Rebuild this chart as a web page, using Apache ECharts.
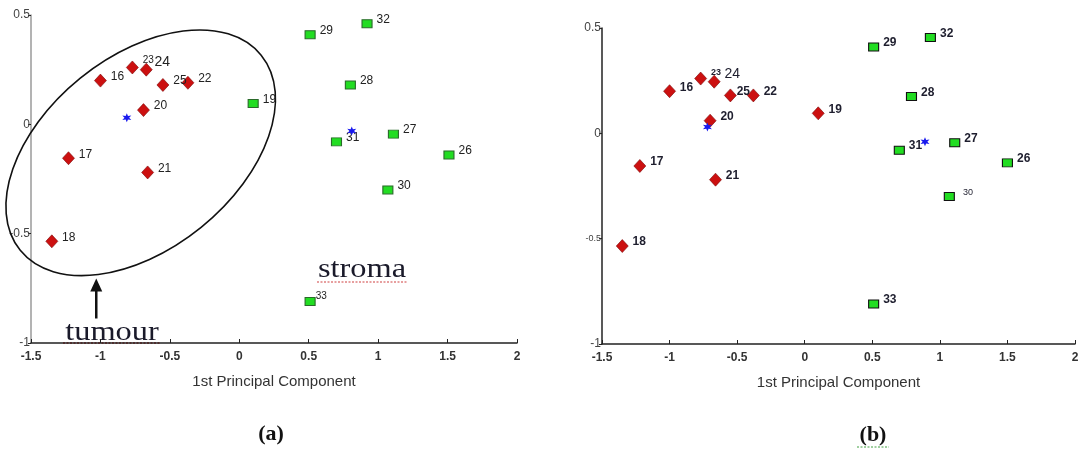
<!DOCTYPE html>
<html>
<head>
<meta charset="utf-8">
<script src="https://cdn.jsdelivr.net/npm/echarts@6/dist/echarts.min.js"></script>
<style>
  html, body { margin: 0; padding: 0; background: #fff; }
  #chart { width: 1082px; height: 453px; }
</style>
</head>
<body>
<div id="chart"></div>
<script>
// panel (a)
const tumourNamesA = ['16', '23', '24', '25', '22', '20', '17', '21', '18'];
const tumourPointsA = [[-1.0, 0.20], [-0.77, 0.26], [-0.67, 0.25], [-0.55, 0.18], [-0.37, 0.19], [-0.69, 0.065], [-1.23, -0.155], [-0.66, -0.22], [-1.35, -0.535]];
const stromaNamesA = ['19', '29', '32', '28', '31', '27', '26', '30', '33'];
const stromaPointsA = [[0.10, 0.095], [0.51, 0.41], [0.92, 0.46], [0.80, 0.18], [0.70, -0.08], [1.11, -0.045], [1.51, -0.14], [1.07, -0.30], [0.51, -0.81]];
const centresA = [[-0.81, 0.03], [0.81, -0.03]];

// panel (b)
const tumourNamesB = ['16', '23', '24', '25', '22', '20', '19', '17', '21', '18'];
const tumourPointsB = [[-1.0, 0.20], [-0.77, 0.26], [-0.67, 0.245], [-0.55, 0.18], [-0.38, 0.18], [-0.70, 0.06], [0.10, 0.095], [-1.22, -0.155], [-0.66, -0.22], [-1.35, -0.535]];
const stromaNamesB = ['29', '32', '28', '31', '27', '26', '30', '33'];
const stromaPointsB = [[0.51, 0.41], [0.93, 0.455], [0.79, 0.175], [0.70, -0.08], [1.11, -0.045], [1.50, -0.14], [1.07, -0.30], [0.51, -0.81]];
const centresB = [[-0.72, 0.03], [0.89, -0.04]];

const xRange = [-1.5, 2];
const yRange = [-1, 0.5];
const axisTitle = '1st Principal Component';

const sans = '"Liberation Sans", Arial, sans-serif';
const serif = '"Liberation Serif", "Times New Roman", serif';
const starPath = 'path://M10,0L12.25,6.1L18.66,5L14.5,10L18.66,15L12.25,13.9L10,20L7.75,13.9L1.34,15L5.5,10L1.34,5L7.75,6.1Z';

// a few labels are drawn smaller / larger in the figure
const labelTweaks = {
  a: { '23': { fontSize: 10, offset: [0, -7] }, '24': { fontSize: 14, offset: [-2, -8] }, '33': { fontSize: 10, offset: [-4, -5] } },
  b: { '23': { fontSize: 9, offset: [0, -6] }, '24': { fontSize: 14, fontWeight: 'normal', offset: [0, -8] }, '30': { fontSize: 9, fontWeight: 'normal', offset: [4, -4] }, '25': { offset: [-4, -4] } }
};

function toData(names, points, panel) {
  return names.map(function (n, i) {
    const item = { name: n, value: points[i] };
    if (labelTweaks[panel][n]) item.label = labelTweaks[panel][n];
    return item;
  });
}

function makeSeries(idx, panel, tNames, tPts, sNames, sPts, centres) {
  const labelBase = {
    show: true,
    position: 'right',
    distance: 4,
    offset: [0, -4],
    formatter: '{b}',
    fontFamily: sans,
    fontSize: 12,
    color: panel === 'a' ? '#222' : '#1e1e2e',
    fontWeight: panel === 'a' ? 'normal' : 'bold'
  };
  return [
    {
      type: 'scatter',
      xAxisIndex: idx,
      yAxisIndex: idx,
      symbol: 'diamond',
      symbolSize: [12, 13],
      itemStyle: { color: '#cc1010', borderColor: '#7a0808', borderWidth: 0.6, opacity: 1 },
      label: labelBase,
      data: toData(tNames, tPts, panel),
      z: 3
    },
    {
      type: 'scatter',
      xAxisIndex: idx,
      yAxisIndex: idx,
      symbol: 'rect',
      symbolSize: [10, 8],
      itemStyle: { color: '#22dd22', borderColor: panel === 'a' ? '#2a6a2a' : '#111', borderWidth: 1, opacity: 1 },
      label: labelBase,
      data: toData(sNames, sPts, panel),
      z: 3
    },
    {
      type: 'scatter',
      xAxisIndex: idx,
      yAxisIndex: idx,
      symbol: starPath,
      symbolSize: 9,
      itemStyle: { color: '#1a1aee', opacity: 1 },
      data: centres,
      z: 4
    }
  ];
}

function xAxisOf(idx) {
  return {
    gridIndex: idx,
    type: 'value',
    min: xRange[0],
    max: xRange[1],
    interval: 0.5,
    splitLine: { show: false },
    axisLine: { onZero: false, lineStyle: { color: '#222', width: 1.5 } },
    axisTick: { inside: true, length: 4, lineStyle: { color: '#222' } },
    axisLabel: { color: '#333', fontSize: 12, fontWeight: 'bold', fontFamily: sans, margin: 8, showMinLabel: true, showMaxLabel: true },
    name: axisTitle,
    nameLocation: 'middle',
    nameGap: 31,
    nameTextStyle: { color: '#333', fontSize: 15, fontFamily: sans }
  };
}

function yAxisOf(idx, lineColor, smallHalf) {
  return {
    gridIndex: idx,
    type: 'value',
    min: yRange[0],
    max: yRange[1],
    interval: 0.5,
    splitLine: { show: false },
    axisLine: { onZero: false, lineStyle: { color: lineColor, width: 1.5 } },
    axisTick: { length: 3, lineStyle: { color: '#222' } },
    axisLabel: {
      color: '#444',
      fontSize: 12,
      fontFamily: sans,
      margin: 1,
      showMinLabel: true,
      showMaxLabel: true,
      formatter: function (v) {
        return smallHalf && v === -0.5 ? '{s|-0.5}' : String(v);
      },
      rich: { s: { fontSize: 9, color: '#444', fontFamily: sans } }
    }
  };
}

const chart = echarts.init(document.getElementById('chart'));
chart.setOption({
  animation: false,
  backgroundColor: '#fff',
  grid: [
    { left: 31, top: 15, width: 486, height: 328 },
    { left: 602, top: 28, width: 473, height: 316 }
  ],
  xAxis: [xAxisOf(0), xAxisOf(1)],
  yAxis: [yAxisOf(0, '#9a9a9a', false), yAxisOf(1, '#222', true)],
  series: makeSeries(0, 'a', tumourNamesA, tumourPointsA, stromaNamesA, stromaPointsA, centresA)
    .concat(makeSeries(1, 'b', tumourNamesB, tumourPointsB, stromaNamesB, stromaPointsB, centresB))
});

// annotations for panel (a): ellipse round the tumour group, arrow and words
const ellC = chart.convertToPixel({ gridIndex: 0 }, [-0.71, -0.13]);
const arrowTip = chart.convertToPixel({ gridIndex: 0 }, [-1.03, -0.705]);

function word(text, x, y) {
  return {
    type: 'text',
    x: x,
    y: y,
    scaleX: 1.2,
    style: { text: text, font: '27px ' + serif, fill: '#1a1a2a', align: 'center', verticalAlign: 'middle', textAlign: 'center', textVerticalAlign: 'middle' }
  };
}

chart.setOption({
  graphic: [
    {
      type: 'ellipse',
      x: ellC[0],
      y: ellC[1],
      rotation: 39 * Math.PI / 180,
      shape: { cx: 0, cy: 0, rx: 155, ry: 96 },
      style: { fill: null, stroke: '#111', lineWidth: 1.6 },
      z: 1
    },
    {
      type: 'line',
      shape: { x1: arrowTip[0], y1: arrowTip[1] + 10, x2: arrowTip[0], y2: arrowTip[1] + 40 },
      style: { stroke: '#111', lineWidth: 2.5 }
    },
    {
      type: 'polygon',
      shape: { points: [[arrowTip[0], arrowTip[1]], [arrowTip[0] - 6, arrowTip[1] + 13], [arrowTip[0] + 6, arrowTip[1] + 13]] },
      style: { fill: '#111' }
    },
    word('tumour', 112, 333),
    {
      type: 'line',
      shape: { x1: 63, y1: 343, x2: 160, y2: 343 },
      style: { stroke: '#d02020', lineWidth: 1.5, lineDash: [2, 1.5] }
    },
    word('stroma', 362, 270),
    {
      type: 'line',
      shape: { x1: 317, y1: 282, x2: 408, y2: 282 },
      style: { stroke: '#d04040', lineWidth: 1.2, lineDash: [2, 1.5] }
    },
    {
      type: 'text',
      x: 271,
      y: 434,
      style: { text: '(a)', font: 'bold 22px ' + serif, fill: '#111', align: 'center', verticalAlign: 'middle', textAlign: 'center', textVerticalAlign: 'middle' }
    },
    {
      type: 'text',
      x: 873,
      y: 435,
      style: { text: '(b)', font: 'bold 22px ' + serif, fill: '#111', align: 'center', verticalAlign: 'middle', textAlign: 'center', textVerticalAlign: 'middle' }
    },
    {
      type: 'line',
      shape: { x1: 857, y1: 447, x2: 889, y2: 447 },
      style: { stroke: '#40a040', lineWidth: 1, lineDash: [2, 1.5] }
    }
  ]
});

window.addEventListener('resize', function () {
  chart.resize();
});
</script>
</body>
</html>
